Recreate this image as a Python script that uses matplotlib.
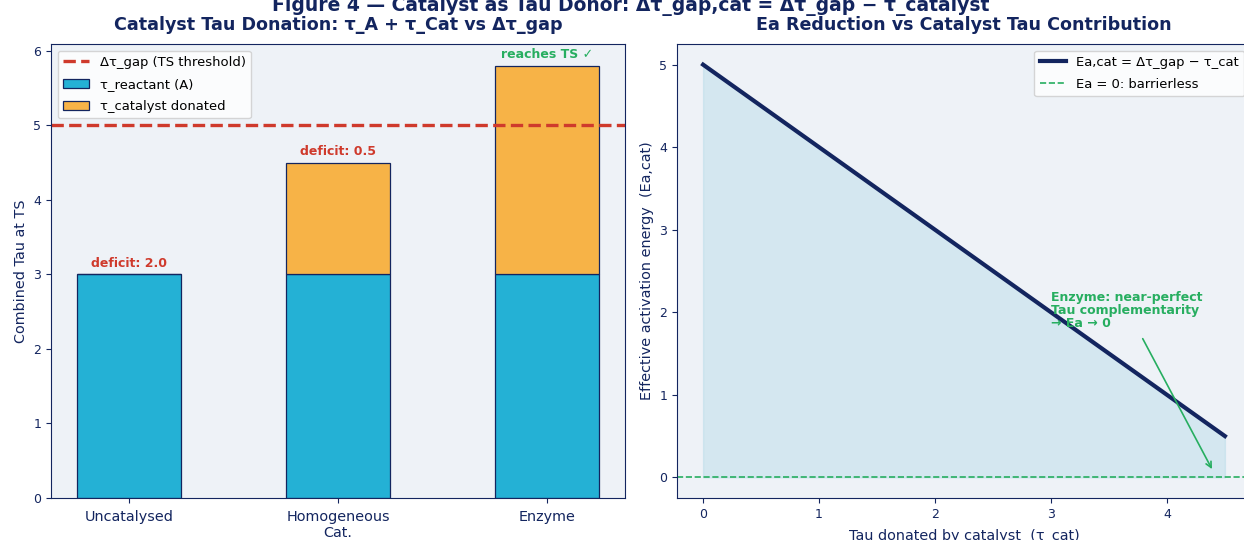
import matplotlib
matplotlib.use("Agg")
import matplotlib.pyplot as plt
import numpy as np

plt.rcParams['font.family'] = ['DejaVu Sans']
SC = 0.9

NAVY = '#13255f'
BG = '#eef2f7'
CYAN = '#24b1d5'
ORANGE = '#f7b347'
RED = '#cf3a2c'
GREEN = '#27ae60'

categories = ['Uncatalysed', 'Homogeneous\nCat.', 'Enzyme']
tau_reactant = [3.0, 3.0, 3.0]
tau_catalyst = [0.0, 1.5, 2.8]
tau_gap = 5.0
bar_notes = ['deficit: 2.0', 'deficit: 0.5', 'reaches TS ✓']

tau_cat_range = [0.0, 4.5]
ea_values = [5.0, 0.5]

fig = plt.figure(figsize=(12.44, 5.4), dpi=100)
ax1 = fig.add_axes([51/1244, 1-498/540, (625-51)/1244, (498-44)/540])
ax2 = fig.add_axes([677/1244, 1-498/540, (1251-677)/1244, (498-44)/540])

for ax in (ax1, ax2):
    ax.set_facecolor(BG)
    for s in ax.spines.values():
        s.set_color(NAVY)
    ax.tick_params(colors=NAVY, labelcolor=NAVY)

x = np.arange(len(categories))
ax1.bar(x, tau_reactant, width=0.5, color=CYAN, edgecolor=NAVY, linewidth=0.9, label='τ_reactant (A)')
ax1.bar(x, tau_catalyst, width=0.5, bottom=tau_reactant, color=ORANGE, edgecolor=NAVY, linewidth=0.9,
        label='τ_catalyst donated')
ax1.axhline(tau_gap, color=RED, linestyle='--', linewidth=2.4, label='Δτ_gap (TS threshold)')
for i in range(len(categories)):
    top = tau_reactant[i] + tau_catalyst[i]
    col = GREEN if top >= tau_gap else RED
    ax1.text(x[i], top + 0.06, bar_notes[i], ha='center', va='bottom', color=col,
             fontsize=10 * SC, fontweight='bold')
ax1.set_xticks(x)
ax1.set_xticklabels(categories, fontsize=11.5 * SC)
ax1.tick_params(axis='x', pad=5)
ax1.tick_params(axis='y', labelsize=10 * SC)
ax1.set_ylim(0, 5.8 * 1.05)
ax1.set_ylabel('Combined Tau at TS', fontsize=11.5 * SC, color=NAVY)
ax1.set_title('Catalyst Tau Donation: τ_A + τ_Cat vs Δτ_gap', fontsize=14 * SC, fontweight='bold',
              color=NAVY, pad=10)
ax1.legend(loc='upper left', fontsize=10.5 * SC, labelspacing=0.7)

ax2.plot(tau_cat_range, ea_values, color=NAVY, linewidth=3, label='Ea,cat = Δτ_gap − τ_cat')
ax2.fill_between(tau_cat_range, 0, ea_values, color='lightblue', alpha=0.4)
ax2.axhline(0, color=GREEN, linestyle='--', linewidth=1.2, label='Ea = 0: barrierless')
ax2.text(3.0, 1.78, 'Enzyme: near-perfect\nTau complementarity\n→ Ea → 0', color=GREEN,
         fontsize=10 * SC, fontweight='bold', ha='left', va='bottom', linespacing=1.0)
ax2.annotate('', xy=(4.4, 0.07), xytext=(3.78, 1.71),
             arrowprops=dict(arrowstyle='->', color=GREEN, lw=1.2))
ax2.set_xlabel('Tau donated by catalyst  (τ_cat)', fontsize=11.5 * SC, color=NAVY, labelpad=6)
ax2.set_ylabel('Effective activation energy  (Ea,cat)', fontsize=11.5 * SC, color=NAVY)
ax2.set_title('Ea Reduction vs Catalyst Tau Contribution', fontsize=14 * SC, fontweight='bold',
              color=NAVY, pad=10)
ax2.tick_params(labelsize=10 * SC)
ax2.legend(loc='upper right', fontsize=10.5 * SC, labelspacing=0.7)

fig.suptitle('Figure 4 — Catalyst as Tau Donor: Δτ_gap,cat = Δτ_gap − τ_catalyst',
             fontsize=15 * SC, fontweight='bold', color=NAVY, x=0.507, y=1 - 11/540, va='baseline')

fig.savefig('out.png', dpi=100)
